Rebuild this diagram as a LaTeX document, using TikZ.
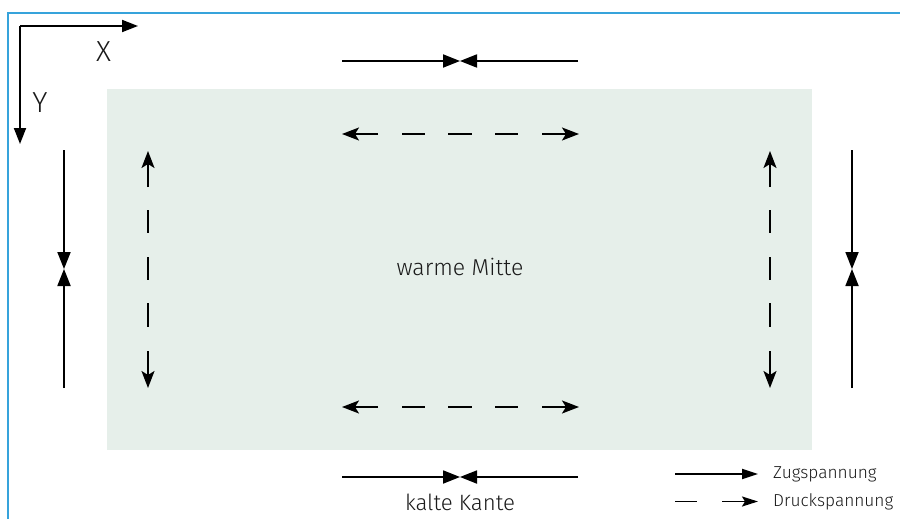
\documentclass[tikz,border=0pt]{standalone}
\usepackage{fontspec}
\setmainfont{Fira Sans}[UprightFont={* Light}]
\usetikzlibrary{arrows.meta}
\definecolor{frameblue}{HTML}{36A3DB}
\definecolor{warmgreen}{HTML}{E6EFEA}
\definecolor{txt}{HTML}{1A1A1A}
\tikzset{
  tens/.style={line width=1.8pt, -{Triangle[length=17pt,width=13pt]}},
  pres/.style={line width=1.8pt, -{Stealth[length=17pt,width=13pt,inset=4pt]}},
  dsh/.style={line width=1.8pt},
  ltens/.style={line width=1.8pt, -{Triangle[length=16pt,width=10pt]}},
  lpres/.style={line width=1.8pt, -{Stealth[length=16pt,width=10pt,inset=3pt]}},
  axis/.style={line width=1.8pt, -{Triangle[length=16pt,width=12pt]}},
  lbl/.style={text=txt, inner sep=0pt},
  leg/.style={text=txt, inner sep=0pt, anchor=base west, font=\fontsize{17.3}{20}\selectfont},
  axl/.style={text=txt, inner sep=0pt, font=\fontsize{29}{34}\selectfont},
}
\begin{document}
\begin{tikzpicture}[x=1pt,y=-1pt]
\useasboundingbox (0,0) rectangle (900,519);
\clip (0,0) rectangle (900,519);
\draw[frameblue, line width=2.8pt] (8,13) rectangle (930,560);
\fill[warmgreen] (107,89) rectangle (812,450);

% axes
\coordinate (o) at (20,26);
\coordinate (xe) at (138,26);
\coordinate (ye) at (20,144);
\draw[axis] (o) -- (xe);
\draw[axis] (o) -- (ye);
\node[axl] (xl) at (103.5,52) {X};
\node[axl] (yl) at (40,103) {Y};

% top tension
\coordinate (tm) at (460,61);
\draw[tens] (342,61) -- (tm);
\draw[tens] (578,61) -- (tm);
% bottom tension
\coordinate (bm) at (460,477);
\draw[tens] (342,477) -- (bm);
\draw[tens] (578,477) -- (bm);
% left tension
\coordinate (lm) at (64,269);
\draw[tens] (64,150) -- (lm);
\draw[tens] (64,388) -- (lm);
% right tension
\coordinate (rm) at (852,269);
\draw[tens] (852,150) -- (rm);
\draw[tens] (852,388) -- (rm);

% horizontal compression (top and bottom)
\foreach \yy in {134,407}{
  \draw[pres] (378,\yy) -- (342,\yy);
  \draw[dsh] (402,\yy) -- (425,\yy);
  \draw[dsh] (448,\yy) -- (472,\yy);
  \draw[dsh] (495,\yy) -- (518,\yy);
  \draw[pres] (542,\yy) -- (579,\yy);
}
% vertical compression (left and right)
\foreach \xx in {148,770}{
  \draw[pres] (\xx,187) -- (\xx,151);
  \draw[dsh] (\xx,210) -- (\xx,233);
  \draw[dsh] (\xx,257) -- (\xx,280);
  \draw[dsh] (\xx,303) -- (\xx,327);
  \draw[pres] (\xx,351) -- (\xx,388);
}

\node[lbl, anchor=base, font=\fontsize{23}{27}\selectfont] (wm) at (460,275) {warme Mitte};
\node[lbl, anchor=base, font=\fontsize{22.2}{26}\selectfont] (kk) at (460,510) {kalte Kante};

% legend
\draw[ltens] (675,474) -- (758,474);
\draw[dsh] (675,501.5) -- (697,501.5);
\draw[lpres] (722,501.5) -- (758,501.5);
\node[leg] (zug) at (773,478) {Zugspannung};
\node[leg] (dru) at (773,506.5) {Druckspannung};
\end{tikzpicture}
\end{document}
